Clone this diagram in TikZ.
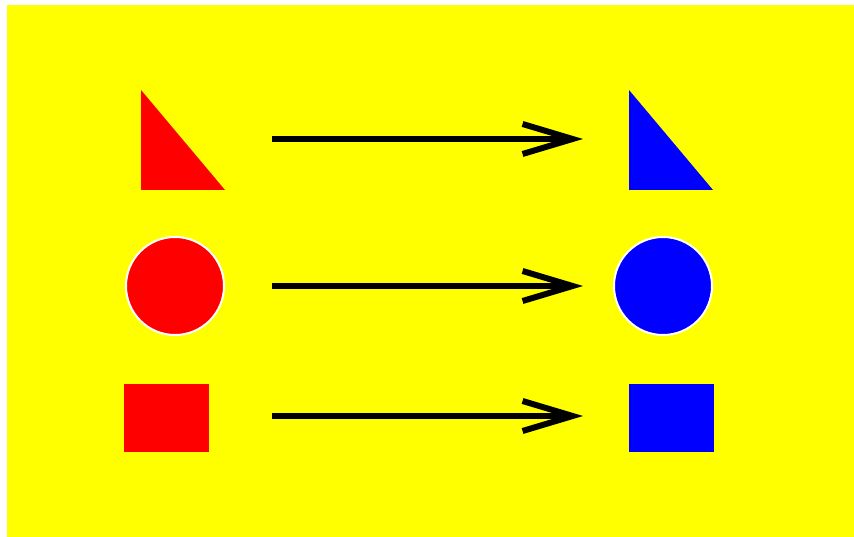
\documentclass[tikz,border=0pt]{standalone}
\usepackage{tikz}
\usetikzlibrary{arrows.meta, positioning}
\definecolor{bgyellow}{RGB}{255,255,0}
\definecolor{shred}{RGB}{255,0,0}
\definecolor{shblue}{RGB}{0,0,255}

\begin{document}
\begin{tikzpicture}[
  x=1pt, y=-1pt,
  disc/.style={circle, draw=white, line width=2pt, minimum size=98pt, inner sep=0pt},
  sq/.style={rectangle, minimum width=85pt, minimum height=68pt, inner sep=0pt},
  arr/.style={-{Straight Barb[length=50pt, width=30pt]}, line width=6pt},
]
  % page and background
  \useasboundingbox (0,0) rectangle (854,537);
  \fill[white] (0,0) rectangle (854,537);
  \fill[bgyellow] (7,5) rectangle (854,537);

  % triangles
  \fill[shred]  (141,90) -- (141,190) -- (225,190) -- cycle;
  \fill[shblue] (629,90) -- (629,190) -- (713,190) -- cycle;

  % circles and squares
  \node[disc, fill=shred]  (cl) at (175,286) {};
  \node[disc, fill=shblue] (cr) at (663,286) {};
  \node[sq, fill=shred]    (sl) at (166.5,418) {};
  \node[sq, fill=shblue]   (sr) at (671,418) {};

  % arrow ends
  \coordinate (t1) at (272,139);
  \coordinate (t2) at (583,139);
  \coordinate (c1) at (272,286);
  \coordinate (c2) at (583,286);
  \coordinate (s1) at (272,416);
  \coordinate (s2) at (583,416);

  \draw[arr] (t1) -- (t2);
  \draw[arr] (c1) -- (c2);
  \draw[arr] (s1) -- (s2);
\end{tikzpicture}
\end{document}
